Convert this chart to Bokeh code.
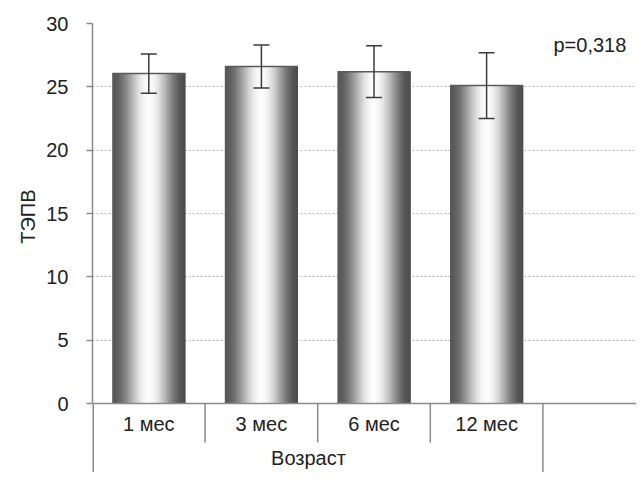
import numpy as np
from bokeh.plotting import figure
from bokeh.models import Range1d, FixedTicker, Whisker, ColumnDataSource, TeeHead, Label, Title
from bokeh.core.properties import value
from bokeh.embed import file_html
from bokeh.resources import INLINE

# ---- data ----
categories = ["1 мес", "3 мес", "6 мес", "12 мес"]
means = [26.05, 26.6, 26.2, 25.1]
errors = [1.55, 1.7, 2.05, 2.6]
y_ticks = [0, 5, 10, 15, 20, 25, 30]
x_title = "Возраст"
y_title = "ТЭПВ"
p_text = "p=0,318"

FONT = "Liberation Sans"
W, H = 636, 472
LEFT, TOP = 92, 23
PX = 380.0 / 30.0                 # pixels per y unit
ZERO = TOP + 30 * PX              # pixel row of y = 0
y_low = 30 - (H - TOP) / PX       # bottom of frame (table area)
CW = 112.6                        # pixels per category slot
n_slots = (W - LEFT) / CW


def ypix(row):
    return (ZERO - row) / PX


def xpix(col):
    return (col - LEFT) / CW


p = figure(width=W, height=H,
           x_range=Range1d(0, n_slots), y_range=Range1d(y_low, 30),
           output_backend="svg", toolbar_location=None,
           x_axis_location=None,
           min_border_left=LEFT, min_border_right=0,
           min_border_top=TOP, min_border_bottom=0)
p.outline_line_color = None
p.background_fill_color = "white"

# y axis
ax = p.yaxis[0]
ax.ticker = FixedTicker(ticks=y_ticks)
ax.bounds = (0, 30)
ax.axis_line_color = "#8a8a8a"
ax.axis_line_width = 1.5
ax.major_tick_line_color = "#8a8a8a"
ax.major_tick_line_width = 1.5
ax.major_tick_out = 6
ax.major_tick_in = 0
ax.minor_tick_line_color = None
ax.major_label_text_font = FONT
ax.major_label_text_font_size = "20px"
ax.major_label_text_color = "#222222"
ax.major_label_standoff = 18

for g in p.grid:
    if g.dimension == 0:
        g.visible = False
    else:
        g.ticker = FixedTicker(ticks=[t for t in y_ticks if t > 0])
        g.grid_line_color = "#b4b4b4"
        g.grid_line_dash = "2 2"
        g.grid_line_width = 1

# y axis title (rotated), as a side title anchored from the top of the frame
p.add_layout(Title(text=y_title, align="right", offset=189 - TOP,
                   text_font=FONT, text_font_size="20px", text_font_style="normal",
                   text_color="#222222"), "left")

# ---- gradient bars made of thin strips ----
bar_w = 0.65
nstrip = 60
t = (np.arange(nstrip) + 0.5) / nstrip
prof = np.sin(np.pi * t) ** 2.0
dark_l, dark_r, light = 88, 78, 252
cols = []
for k in range(nstrip):
    dark = dark_l + (dark_r - dark_l) * t[k]
    g = int(round(dark + (light - dark) * prof[k]))
    cols.append("#%02x%02x%02x" % (g, g, g))

sl, sr, stop, scol = [], [], [], []
sw = bar_w / nstrip
for i, m in enumerate(means):
    left = i + 0.5 - bar_w / 2
    right = i + 0.5 + bar_w / 2
    for k in range(nstrip):
        l = left + k * sw
        sl.append(l)
        sr.append(min(l + 2.5 * sw, right))
        stop.append(m)
        scol.append(cols[k])
src = ColumnDataSource(dict(left=sl, right=sr, top=stop, color=scol))
p.quad(left="left", right="right", top="top", bottom=0,
       fill_color="color", line_color=None, source=src)

# top edge of bars
xc = [i + 0.5 for i in range(len(means))]
p.segment(x0=[x - bar_w / 2 for x in xc], x1=[x + bar_w / 2 for x in xc],
          y0=means, y1=means, line_color="#5a5a5a", line_width=1.5)

# error bars
esrc = ColumnDataSource(dict(x=xc,
                             upper=[m + e for m, e in zip(means, errors)],
                             lower=[m - e for m, e in zip(means, errors)]))
p.add_layout(Whisker(source=esrc, base="x", upper="upper", lower="lower",
                     level="overlay",
                     line_color="#3c3c3c", line_width=1.5,
                     upper_head=TeeHead(size=16, line_color="#3c3c3c", line_width=1.5),
                     lower_head=TeeHead(size=16, line_color="#3c3c3c", line_width=1.5)))

# x axis line at 0
p.segment(x0=[0], x1=[n_slots], y0=[0], y1=[0], line_color="#8a8a8a", line_width=1.5)

# table separators
n = len(categories)
y_sep = ypix(442)
p.segment(x0=list(range(1, n)), x1=list(range(1, n)), y0=[0] * (n - 1), y1=[y_sep] * (n - 1),
          line_color="#8a8a8a", line_width=1.5)
p.segment(x0=[0, n], x1=[0, n], y0=[0, 0], y1=[y_low, y_low],
          line_color="#8a8a8a", line_width=[3, 1.5])

# category labels
p.text(x=xc, y=[ypix(423.7)] * n, text=categories,
       text_align="center", text_baseline="middle",
       text_font=value(FONT), text_font_size="20px", text_color="#222222")
p.text(x=[xpix(308)], y=[ypix(457.5)], text=[x_title],
       text_align="center", text_baseline="middle",
       text_font=value(FONT), text_font_size="20px", text_color="#222222")

# p-value
p.add_layout(Label(x=xpix(553), y=ypix(44.5), text=p_text,
                   text_align="left", text_baseline="middle",
                   text_font=FONT, text_font_size="20px", text_color="#222222"))

open("out.html", "w").write(file_html(p, INLINE))
